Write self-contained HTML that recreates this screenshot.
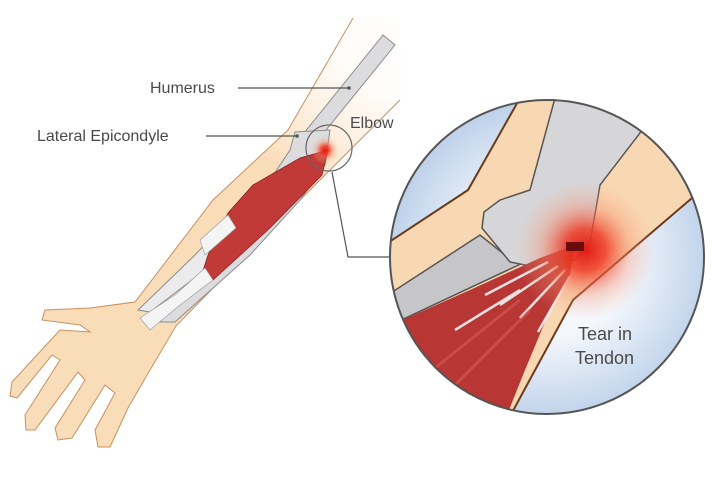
<!DOCTYPE html>
<html><head><meta charset="utf-8"><style>
html,body{margin:0;padding:0;background:#fff;}
svg{display:block;}
text{font-family:"Liberation Sans",Arial,sans-serif;fill:#4a4a4a;}
</style></head><body>
<svg width="716" height="478" viewBox="0 0 716 478" xmlns="http://www.w3.org/2000/svg">
<defs>
<radialGradient id="glow" cx="0.5" cy="0.5" r="0.5">
<stop offset="0" stop-color="#e01a12" stop-opacity="1"/>
<stop offset="0.3" stop-color="#ee3a25" stop-opacity="0.85"/>
<stop offset="0.65" stop-color="#f58a6a" stop-opacity="0.35"/>
<stop offset="1" stop-color="#f8b090" stop-opacity="0"/>
</radialGradient>
<radialGradient id="bg" cx="0.5" cy="0.5" r="0.5">
<stop offset="0.45" stop-color="#f4f7fc"/>
<stop offset="1" stop-color="#b8cde8"/>
</radialGradient>
<linearGradient id="fade" x1="0" y1="1" x2="0.7" y2="0">
<stop offset="0.75" stop-color="#f9dcb8" stop-opacity="1"/>
<stop offset="1" stop-color="#fde9d4" stop-opacity="0.15"/>
</linearGradient>
<linearGradient id="fade2" x1="0" y1="0" x2="1" y2="0">
<stop offset="0" stop-color="#fff" stop-opacity="0"/>
<stop offset="1" stop-color="#fff" stop-opacity="1"/>
</linearGradient>
<clipPath id="cc"><circle cx="547" cy="257" r="157"/></clipPath>
</defs>

<!-- Arm -->
<path d="M353,18 L398,18 L405,96 L355,145 L260,240 L176,326 L150,370 L128,408 L110,447 L98,447 L95,430 L115,393 L105,385 L72,438 L58,440 L55,428 L85,380 L78,372 L35,430 L26,430 L25,415 L60,360 L52,355 L17,398 L10,396 L12,382 L60,330 L90,332 L80,325 L42,320 L45,310 L90,308 L135,302 L213,200 L288,130 Z" fill="url(#fade)"/>
<rect x="360" y="15" width="50" height="85" fill="url(#fade2)"/>
<path d="M353,18 L288,130 L213,200 L135,302 L90,308 L45,310 L42,320 L80,325 L90,332 L60,330 L12,382 L10,396 L17,398 L52,355 L60,360 L25,415 L26,430 L35,430 L78,372 L85,380 L55,428 L58,440 L72,438 L105,385 L115,393 L95,430 L98,447 L110,447 L128,408 L150,370 L176,326 L260,240 L355,145 L400,100" fill="none" stroke="#c89060" stroke-width="1"/>
<!-- bones -->
<path d="M383,35 L395,45 L322,135 L300,138 Z" fill="#dcdcde" stroke="#8c8c8c" stroke-width="1"/>
<path d="M295,132 L330,130 L325,165 L300,200 L250,255 L175,322 L160,322 L220,250 L270,180 L290,150 Z" fill="#dcdcde" stroke="#8c8c8c" stroke-width="1"/>
<path d="M268,178 L285,188 L205,270 L150,312 L138,310 L195,255 Z" fill="#ebebed" stroke="#8c8c8c" stroke-width="1"/>
<!-- muscle -->
<path d="M328,150 L322,175 L270,228 L213,280 L200,280 L208,255 L228,213 L253,185 L300,158 Z" fill="#c23a38" stroke="#8a2020" stroke-width="0.8"/>
<path d="M140,318 L175,295 L205,268 L213,280 L180,305 L150,330 Z" fill="#f4f4f4" stroke="#999" stroke-width="0.6"/>
<path d="M200,240 L228,215 L236,228 L205,255 Z" fill="#f4f4f4" stroke="#999" stroke-width="0.6"/>
<circle cx="325" cy="150" r="14" fill="url(#glow)"/>
<circle cx="329" cy="148" r="23" fill="none" stroke="#666" stroke-width="1.2"/>
<!-- connector -->
<polyline points="332,172 348,257 391,257" fill="none" stroke="#555" stroke-width="1.2"/>

<!-- big circle -->
<g clip-path="url(#cc)">
<rect x="380" y="90" width="340" height="340" fill="url(#bg)"/>
<path d="M380,248 L468,190 L520,98 L700,98 L692,198 L573,300 L508,420 L380,420 Z" fill="#f8d8b2"/>
<path d="M380,248 L468,190 L520,98" fill="none" stroke="#6b3a1a" stroke-width="2"/>
<path d="M705,190 L692,198 L573,300 L508,420" fill="none" stroke="#6b3a1a" stroke-width="2"/>
<!-- lower bone -->
<path d="M380,300 L480,235 L505,255 L525,262 L380,330 Z" fill="#c6c6c9" stroke="#555" stroke-width="1.5"/>
<!-- upper bone -->
<path d="M555,98 L660,98 L640,133 L600,185 L590,243 L575,260 L540,268 L510,262 L482,228 L484,212 L500,200 L530,190 Z" fill="#d6d6d9" stroke="#555" stroke-width="1.5"/>
<!-- muscle fan -->
<path d="M380,330 L470,290 L540,258 L575,245 L570,275 L550,310 L525,370 L505,420 L380,420 Z" fill="#b83634"/>
<path d="M485,295 L548,262 M500,305 L558,266 M520,318 L565,270 M538,332 L570,276 M455,330 L520,290" stroke="#f4f4f4" stroke-width="2.5" opacity="0.9"/>
<path d="M420,380 L520,300 M440,400 L530,310" stroke="#d55a55" stroke-width="3" opacity="0.6"/>
<circle cx="585" cy="250" r="70" fill="url(#glow)"/>
<rect x="566" y="242" width="18" height="9" fill="#6a0c0c"/>
</g>
<circle cx="547" cy="257" r="157" fill="none" stroke="#555" stroke-width="2"/>

<!-- labels -->
<text x="150" y="93" font-size="16">Humerus</text>
<line x1="238" y1="88" x2="349" y2="88" stroke="#555" stroke-width="1.2"/>
<circle cx="349" cy="88" r="1.8" fill="#555"/>
<text x="37" y="141" font-size="16">Lateral Epicondyle</text>
<line x1="206" y1="136" x2="297" y2="136" stroke="#555" stroke-width="1.2"/>
<circle cx="297" cy="136" r="1.8" fill="#555"/>
<text x="350" y="128" font-size="16">Elbow</text>
<text x="578" y="340" font-size="18">Tear in</text>
<text x="575" y="364" font-size="18">Tendon</text>
</svg>
</body></html>
